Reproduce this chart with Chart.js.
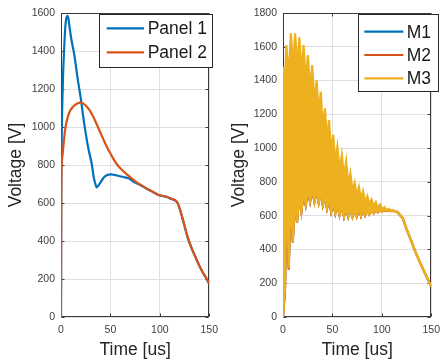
<!DOCTYPE html>
<html>
<head>
<meta charset="utf-8">
<script src="https://cdn.jsdelivr.net/npm/chart.js@4.4.0/dist/chart.umd.min.js"></script>
<style>
html, body { margin: 0; padding: 0; background: #fff; }
#wrap { position: relative; width: 447px; height: 364px; }
canvas { position: absolute; top: 0; }
</style>
</head>
<body>
<div id="wrap">
  <canvas id="left" width="225" height="364" style="left:0px"></canvas>
  <canvas id="right" width="222" height="364" style="left:225px"></canvas>
</div>
<script>
// ---- data ----
const timeTicks = [0, 50, 100, 150];
const leftYTicks = [0, 200, 400, 600, 800, 1000, 1200, 1400, 1600];
const rightYTicks = [0, 200, 400, 600, 800, 1000, 1200, 1400, 1600, 1800];

// left panel
const p1Time = [0, 0.2, 0.6, 1.3, 2, 2.9, 3.7, 4.5, 5.5, 6.5, 7.5, 8.7, 10.3, 13.5, 16.8, 20, 23.2, 26.4, 28, 31.3, 33, 34.8, 36.1, 37.5, 39.4, 42, 44, 47, 50.6, 54, 58.7, 63, 68.4, 72, 76, 80, 84, 88, 92.6, 96, 99, 103, 107, 111, 115, 117.5, 120, 124, 128, 132, 136, 140, 144, 147, 150];
const p1Volt = [0, 600, 900, 1116, 1260, 1379, 1470, 1537, 1575, 1585, 1570, 1525, 1467, 1379, 1256, 1151, 1028, 923, 879, 800, 738, 700, 682, 690, 703, 725, 738, 748, 751, 748, 742, 737, 730, 717, 705, 695, 684, 671, 659, 649, 641, 637, 632, 623, 615, 604, 571, 499, 422, 364, 316, 269, 229, 204, 174];
const p2Time = [0, 0.3, 0.6, 1.5, 3, 3.9, 6, 8.7, 12, 16, 20, 23, 26, 29, 32, 35, 38, 41, 44, 47, 50, 53, 56, 60, 64, 68, 72, 76, 80, 84, 88, 92.6, 96, 99, 103, 107, 111, 115, 117.5, 120, 124, 128, 132, 136, 140, 144, 147, 150];
const p2Volt = [0, 600, 780, 850, 930, 975, 1035, 1080, 1105, 1122, 1128, 1122, 1108, 1088, 1060, 1028, 992, 957, 922, 890, 860, 832, 808, 783, 763, 745, 727, 711, 698, 685, 672, 660, 650, 642, 638, 633, 624, 616, 605, 572, 500, 423, 365, 317, 270, 230, 205, 175];

// right panel: M3 oscillates so fast that it shows as a band; its upper and lower edges
const m3UpTime = [0, 0.05, 1.4, 3.4, 5.7, 8.0, 10.1, 12.3, 14.4, 16.5, 18.7, 20.8, 23.0, 25.2, 27.4, 29.5, 31.8, 34.0, 36.1, 38.2, 40.3, 42.4, 44.5, 46.6, 48.7, 50.8, 52.9, 55.0, 57.2, 59.5, 61.7, 63.9, 66.0, 68.2, 70.3, 72.5, 74.6, 76.8, 78.9, 81.0, 83.1, 85.3, 87.4, 89.6, 91.8, 94.0, 96.1, 98.3, 100.4, 102.6, 104.8, 107.0, 109.2, 111.4, 113.5, 115.5, 117.5, 121.3, 125, 129.4, 134, 139, 144, 150];
const m3UpVolt = [0, 1480, 1300, 1610, 1420, 1680, 1470, 1680, 1470, 1656, 1440, 1610, 1400, 1551, 1340, 1492, 1270, 1403, 1200, 1334, 1110, 1236, 1050, 1166, 970, 1078, 915, 1008, 870, 959, 835, 920, 785, 850, 745, 795, 720, 770, 700, 745, 680, 715, 667, 695, 655, 680, 645, 665, 637, 650, 632, 640, 629, 632, 626, 622, 610, 584, 520, 456, 385, 318, 255, 180];
const m3LowTime = [0, 2.0, 3.8, 5.8, 7.8, 9.9, 12.0, 14.2, 16.4, 18.6, 20.8, 23.0, 25.2, 27.4, 29.6, 31.8, 34.0, 36.1, 38.2, 40.3, 42.4, 44.5, 46.6, 48.7, 50.8, 52.9, 55.0, 57.2, 59.5, 61.7, 63.9, 66.0, 68.2, 70.3, 72.5, 74.6, 76.8, 78.9, 81.0, 83.1, 85.3, 87.4, 89.6, 91.8, 94.0, 96.1, 98.3, 100.4, 102.6, 104.8, 107.0, 109.2, 111.4, 113.5, 115.5, 117.5, 121.3, 125, 129.4, 134, 139, 144, 150];
const m3LowVolt = [0, 170, 800, 290, 750, 445, 700, 560, 720, 624, 740, 663, 750, 683, 760, 683, 750, 677, 740, 663, 720, 643, 700, 624, 680, 614, 670, 604, 660, 594, 650, 594, 645, 594, 640, 596, 640, 598, 638, 602, 636, 608, 636, 614, 636, 620, 634, 625, 633, 628, 632, 628, 629, 626, 622, 610, 584, 520, 456, 385, 318, 255, 180];
// M1 and M2 lie almost entirely under M3 (same times as the lower edge)
const m1Volt = [0, 175, 790, 295, 745, 450, 698, 562, 718, 626, 738, 665, 748, 684, 758, 684, 748, 678, 738, 664, 718, 644, 698, 625, 678, 615, 668, 605, 658, 595, 648, 595, 643, 595, 638, 597, 638, 599, 636, 603, 634, 609, 634, 615, 634, 621, 632, 626, 632, 628, 631, 628, 629, 626, 622, 610, 584, 520, 456, 385, 318, 255, 180];
const m2Volt = [0, 150, 780, 280, 740, 440, 695, 558, 715, 622, 735, 662, 745, 682, 755, 682, 745, 676, 735, 662, 715, 642, 695, 623, 675, 613, 665, 603, 655, 593, 645, 593, 640, 593, 635, 595, 635, 597, 633, 601, 633, 607, 633, 613, 633, 619, 631, 624, 631, 627, 630, 627, 628, 625, 622, 610, 584, 520, 456, 385, 318, 255, 180];

const blue = '#0072BD', orange = '#D95319', yellow = '#EDB120';
const FONT = "'Liberation Sans', Arial, Helvetica, sans-serif";

Chart.defaults.font.family = FONT;

const pts = (t, v) => t.map((x, i) => ({ x: x, y: v[i] }));

// matlab style box + inward ticks on all four sides, plus a boxed legend
const matlabBox = {
  id: 'matlabBox',
  beforeDatasetsDraw(chart) {
    const { ctx, chartArea: a, scales } = chart;
    const L = Math.round(a.left) + 0.5, R = Math.round(a.right) - 0.5;
    const T = Math.round(a.top) + 0.5, B = Math.round(a.bottom) - 0.5;
    ctx.save();
    ctx.strokeStyle = '#3a3a3a';
    ctx.lineWidth = 1;
    ctx.strokeRect(L, T, R - L, B - T);
    ctx.beginPath();
    scales.x.ticks.forEach(t => {
      const x = Math.round(scales.x.getPixelForValue(t.value)) + 0.5;
      ctx.moveTo(x, B); ctx.lineTo(x, B - 3);
      ctx.moveTo(x, T); ctx.lineTo(x, T + 3);
    });
    scales.y.ticks.forEach(t => {
      const y = Math.round(scales.y.getPixelForValue(t.value)) + 0.5;
      ctx.moveTo(L, y); ctx.lineTo(L + 3, y);
      ctx.moveTo(R, y); ctx.lineTo(R - 3, y);
    });
    ctx.stroke();
    ctx.restore();
  },
  afterDatasetsDraw(chart, args, opts) {
    const lg = opts.legend;
    if (!lg) return;
    const ctx = chart.ctx;
    ctx.save();
    ctx.fillStyle = '#fff';
    ctx.fillRect(lg.x, lg.y, lg.w, lg.h);
    ctx.strokeStyle = '#262626';
    ctx.lineWidth = 1;
    ctx.strokeRect(lg.x + 0.5, lg.y + 0.5, lg.w, lg.h);
    ctx.font = '17.5px ' + FONT;
    ctx.textBaseline = 'middle';
    ctx.fillStyle = '#1a1a1a';
    lg.labels.forEach((lab, i) => {
      const y = lg.first + i * lg.rowH;
      ctx.strokeStyle = lg.colors[i];
      ctx.lineWidth = 2.2;
      ctx.beginPath();
      ctx.moveTo(lg.x0, y); ctx.lineTo(lg.x1, y);
      ctx.stroke();
      ctx.fillText(lab, lg.tx, y + 1);
    });
    ctx.restore();
  }
};

function scalesFor(yMax, yTicks, yWidth, yTitlePad) {
  const tickFont = { family: FONT, size: 10.5 };
  const titleFont = { family: FONT, size: 17.5 };
  return {
    x: {
      type: 'linear', min: 0, max: 150,
      afterBuildTicks: s => { s.ticks = timeTicks.map(v => ({ value: v })); },
      afterFit: s => { s.height = 47; },
      grid: { color: '#e0e0e0', drawTicks: false },
      border: { display: false },
      ticks: { padding: 7, color: '#404040', font: tickFont, maxRotation: 0, callback: v => String(v) },
      title: { display: true, text: 'Time [us]', color: '#262626', font: titleFont, padding: { top: 0, bottom: 3.5 } }
    },
    y: {
      type: 'linear', min: 0, max: yMax,
      afterBuildTicks: s => { s.ticks = yTicks.map(v => ({ value: v })); },
      afterFit: s => { s.width = yWidth; },
      grid: { color: '#e0e0e0', drawTicks: false },
      border: { display: false },
      ticks: { padding: 6, color: '#404040', font: tickFont, callback: v => String(v) },
      title: { display: true, text: 'Voltage [V]', color: '#262626', font: titleFont, padding: { top: yTitlePad, bottom: 0 } }
    }
  };
}

const lineDefaults = { pointRadius: 0, borderWidth: 2.2 };

new Chart(document.getElementById('left'), {
  type: 'line',
  data: {
    datasets: [
      Object.assign({ label: 'Panel 1', data: pts(p1Time, p1Volt), borderColor: blue, order: 1, fill: false, cubicInterpolationMode: 'monotone' }, lineDefaults),
      Object.assign({ label: 'Panel 2', data: pts(p2Time, p2Volt), borderColor: orange, order: 0, fill: false, cubicInterpolationMode: 'monotone' }, lineDefaults)
    ]
  },
  options: {
    responsive: false,
    animation: false,
    layout: { padding: { top: 13, right: 9, left: 0, bottom: 0 } },
    scales: scalesFor(1600, leftYTicks, 61, 5.5),
    plugins: {
      legend: { display: false },
      tooltip: { enabled: false },
      matlabBox: { legend: { x: 99, y: 14, w: 113, h: 53, first: 28.3, rowH: 24, x0: 106.7, x1: 144, tx: 147.7, labels: ['Panel 1', 'Panel 2'], colors: [blue, orange] } }
    }
  },
  plugins: [matlabBox]
});

new Chart(document.getElementById('right'), {
  type: 'line',
  data: {
    datasets: [
      Object.assign({ label: 'M1', data: pts(m3LowTime, m1Volt), borderColor: blue, order: 2, fill: false, tension: 0 }, lineDefaults),
      Object.assign({ label: 'M2', data: pts(m3LowTime, m2Volt), borderColor: orange, order: 1, fill: false, tension: 0 }, lineDefaults),
      Object.assign({ label: 'M3', data: pts(m3UpTime, m3UpVolt), borderColor: yellow, backgroundColor: yellow, order: 0, fill: 3, tension: 0 }, lineDefaults),
      Object.assign({ label: 'M3 low', data: pts(m3LowTime, m3LowVolt), borderColor: yellow, order: 0, fill: false, tension: 0 }, lineDefaults)
    ]
  },
  options: {
    responsive: false,
    animation: false,
    layout: { padding: { top: 13, right: 9, left: 0, bottom: 0 } },
    scales: scalesFor(1800, rightYTicks, 58, 3.5),
    plugins: {
      legend: { display: false },
      tooltip: { enabled: false },
      filler: { propagate: false },
      matlabBox: { legend: { x: 133, y: 14, w: 80, h: 77, first: 31.7, rowH: 23.3, x0: 139.3, x1: 178.3, tx: 181.7, labels: ['M1', 'M2', 'M3'], colors: [blue, orange, yellow] } }
    }
  },
  plugins: [matlabBox]
});
</script>
</body>
</html>
